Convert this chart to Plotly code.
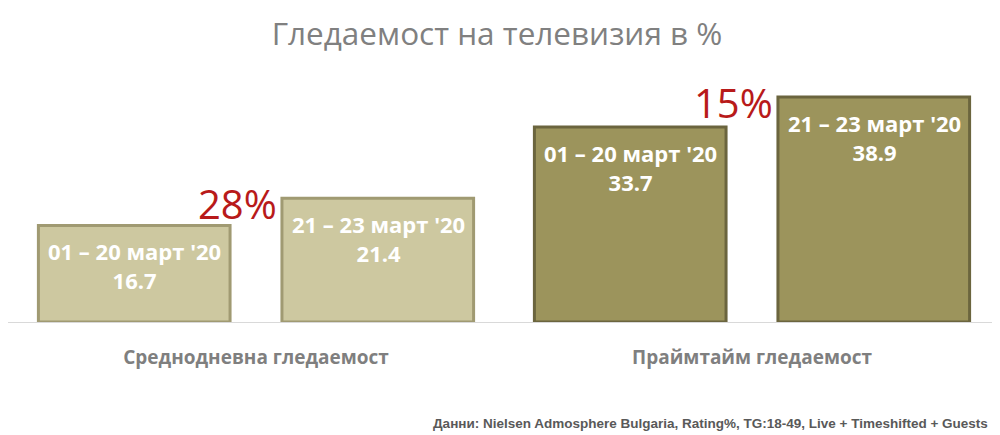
import plotly.graph_objects as go

# данни
categories = ["Среднодневна гледаемост", "Праймтайм гледаемост"]
periods = ["01 – 20 март '20", "21 – 23 март '20"]
before = [16.7, 33.7]
after = [21.4, 38.9]
growth = ["28%", "15%"]
source = "Данни: Nielsen Admosphere Bulgaria, Rating%, TG:18-49, Live + Timeshifted + Guests"

fills = ["#cdc8a0", "#9c945c"]
edges = ["#a09a72", "#6b653e"]

fig = go.Figure()
for name, vals in zip(periods, [before, after]):
    fig.add_trace(go.Bar(
        x=categories, y=vals, name=name,
        marker=dict(color=fills, line=dict(color=edges, width=3)),
        hoverinfo="skip",
    ))

# надписи в колоните (период + стойност), отместени към лявата/дясната колона
for shift, name, vals in zip([-122, 122], periods, [before, after]):
    for cat, v in zip(categories, vals):
        fig.add_annotation(x=cat, y=v, text=name + "<br>" + str(v), showarrow=False,
                           xshift=shift, yanchor="top", yshift=-9,
                           font=dict(family="Open Sans", size=22, color="white", weight="bold"))

# процент ръст между двата периода
for cat, g, v in zip(categories, growth, after):
    fig.add_annotation(x=cat, y=v, text=g, showarrow=False,
                       xshift=-19, yshift=-5, yanchor="middle",
                       font=dict(family="Open Sans", size=40, color="#b81a1a"))

fig.add_annotation(x=0.99, y=0, xref="paper", yref="paper", text=source,
                   showarrow=False, xanchor="right", yanchor="middle", yshift=-101,
                   font=dict(family="Liberation Sans", size=13.5, color="#595959", weight="bold"))

fig.update_layout(
    width=1000, height=435,
    margin=dict(l=0, r=8, t=52, b=121),
    paper_bgcolor="white", plot_bgcolor="white",
    showlegend=False,
    barmode="group", bargap=0.018, bargroupgap=0.213,
    title=dict(text="Гледаемост на телевизия в %", x=0.489, xanchor="center",
               y=1 - 26 / 435, yanchor="middle",
               font=dict(family="Open Sans", size=31.5, color="#808080")),
    xaxis=dict(showline=True, linecolor="#d9d9d9", linewidth=1, ticks="",
               ticklabelstandoff=18,
               tickfont=dict(family="Open Sans", size=19, color="#7f7f7f", weight="bold")),
    yaxis=dict(visible=False, range=[0, 45.3], showgrid=False),
)

fig.write_html("out.html")
